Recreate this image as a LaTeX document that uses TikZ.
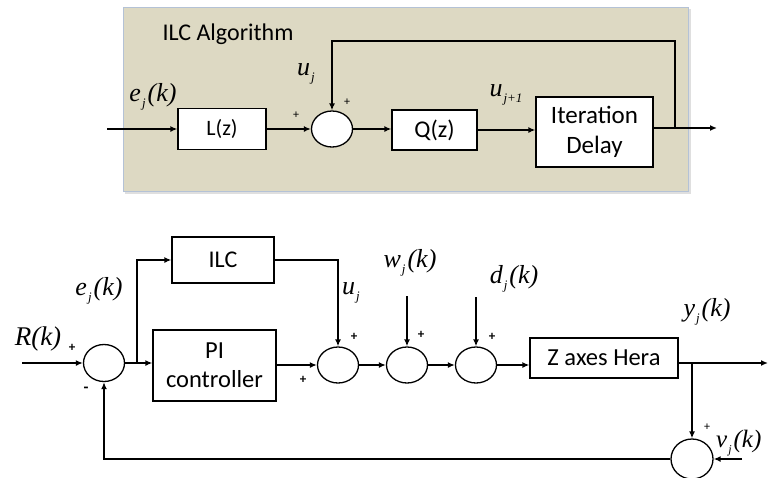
\documentclass[tikz,border=0pt]{standalone}
\usepackage{fontspec}
\setmainfont{Carlito}
\newfontfamily\tms{Liberation Serif}
\usetikzlibrary{shapes.geometric,arrows.meta}
\definecolor{panel}{HTML}{DDD9C3}
\definecolor{panelborder}{HTML}{B4C2D6}
\newcommand{\sigl}[3]{{\tms\fontsize{26}{28}\selectfont\itshape #1\kern1pt\raisebox{-0.55ex}{\fontsize{13}{13}\selectfont #2}\kern2pt#3}}
\newcommand{\fs}[1]{\fontsize{#1}{#1}\selectfont}
\tikzset{
  blk/.style={draw,line width=1.3pt,fill=white,inner sep=0pt,align=center},
  sum/.style={draw,ellipse,line width=1.3pt,fill=white,minimum width=41pt,minimum height=36pt,inner sep=0pt},
  ln/.style={line width=1.5pt},
  arr/.style={ln,-{Latex[length=7pt,width=6pt]}},
  pm/.style={inner sep=0pt,font=\fontsize{13}{13}\selectfont\bfseries},
  lab/.style={inner sep=0pt}
}
\begin{document}
\begin{tikzpicture}[x=1pt,y=-1pt]
\useasboundingbox (0,0) rectangle (773,477);
% top panel
\fill[gray!25] (125,9) rectangle (691,194);
\draw[panelborder,fill=panel,line width=1pt] (123,7) rectangle (688,191);
\node[lab,font=\fs{24}] (title) at (228,34) {ILC Algorithm};

\node[blk,minimum width=88pt,minimum height=41pt,font=\fs{22}] (L) at (222,129) {L(z)};
\node[sum] (s0) at (332,129) {};
\node[blk,minimum width=85pt,minimum height=40pt,font=\fs{24}] (Q) at (434.5,130) {Q(z)};
\node[blk,minimum width=117pt,minimum height=70pt,font=\fontsize{25}{30}\selectfont] (D) at (594.5,132) {Iteration\\Delay};
\coordinate (in0) at (107,129);
\coordinate (out0) at (717,128);
\coordinate (fb) at (675,41);

\draw[arr] (in0) -- (L.west);
\draw[arr] (L.east) -- (s0.west);
\draw[arr] (s0.east) -- (s0.east -| Q.west);
\draw[arr] (Q.east) -- (Q.east -| D.west);
\draw[arr] (out0 -| D.east) -- (out0);
\draw[arr] (out0 -| fb) -- (fb) -- (fb -| s0) -- (s0.north);

\node[lab] (e0) at (153,97) {\sigl{e}{j}{(k)}};
\node[lab] (u0) at (307,74) {\sigl{u}{j}{}};
\node[lab] (u1) at (507,95) {\sigl{u}{j+1}{}};
\node[pm,font=\fs{12}] (p01) at (296,115) {+};
\node[pm,font=\fs{12}] (p02) at (347,102) {+};

% bottom diagram
\node[sum,minimum height=37pt] (s1) at (104,363) {};
\node[blk,minimum width=102pt,minimum height=46pt,font=\fs{24}] (ILC) at (223,260) {ILC};
\node[blk,minimum width=123pt,minimum height=71pt,font=\fontsize{24.5}{29}\selectfont] (PI) at (214.5,365.5) {PI\\controller};
\node[sum] (s2) at (338,365) {};
\node[sum] (s3) at (407,365) {};
\node[sum] (s4) at (476,365) {};
\node[blk,minimum width=148pt,minimum height=40pt,font=\fs{24.5}] (Z) at (604,358) {Z axes Hera};
\node[sum,minimum width=42pt,minimum height=40pt] (s5) at (692,459) {};

\coordinate (Rin) at (22,363);
\coordinate (br) at (137,363);
\coordinate (yo) at (768,363);
\coordinate (vin) at (742,459);
\coordinate (win) at (407,296);
\coordinate (din) at (476,297);

\draw[arr] (Rin) -- (s1.west);
\draw[arr] (s1.east) -- (s1.east -| PI.west);
\draw[arr] (br) |- (ILC.west);
\draw[arr] (ILC.east) -| (s2.north);
\draw[arr] (s2 -| PI.east) -- (s2.west);
\draw[arr] (s2.east) -- (s3.west);
\draw[arr] (s3.east) -- (s4.west);
\draw[arr] (s4.east) -- (s4 -| Z.west);
\draw[arr] (yo -| Z.east) -- (yo);
\draw[arr] (yo -| s5) -- (s5.north);
\draw[arr] (vin) -- (s5.east);
\draw[arr] (s5.west) -| (s1.south);
\draw[arr] (win) -- (s3.north);
\draw[arr] (din) -- (s4.north);

\node[lab] (e1) at (99,291) {\sigl{e}{j}{(k)}};
\node[lab] (R) at (38,339) {{\tms\fontsize{27}{29}\selectfont\itshape R(k)}};
\node[lab] (u2) at (352,293) {\sigl{u}{j}{}};
\node[lab] (w) at (410,263) {\sigl{w}{j}{(k)}};
\node[lab] (d) at (514,279) {\sigl{d}{j}{(k)}};
\node[lab] (y) at (707,312) {\sigl{y}{j}{(k)}};
\node[lab,anchor=west] (v) at (716,443) {{\tms\fs{25}\itshape v\kern1pt\raisebox{-0.55ex}{\fs{12}j}\kern2pt(k)}};

\node[pm] (p1) at (72,348) {+};
\node[pm,font=\fontsize{16}{16}\selectfont\bfseries] (m1) at (86,390) {-};
\node[pm] (p2) at (354,337) {+};
\node[pm] (p2b) at (303,380) {+};
\node[pm] (p3) at (421,335) {+};
\node[pm] (p4) at (492,337) {+};
\node[pm,font=\fs{12}] (p5) at (707,427) {+};
\end{tikzpicture}
\end{document}
